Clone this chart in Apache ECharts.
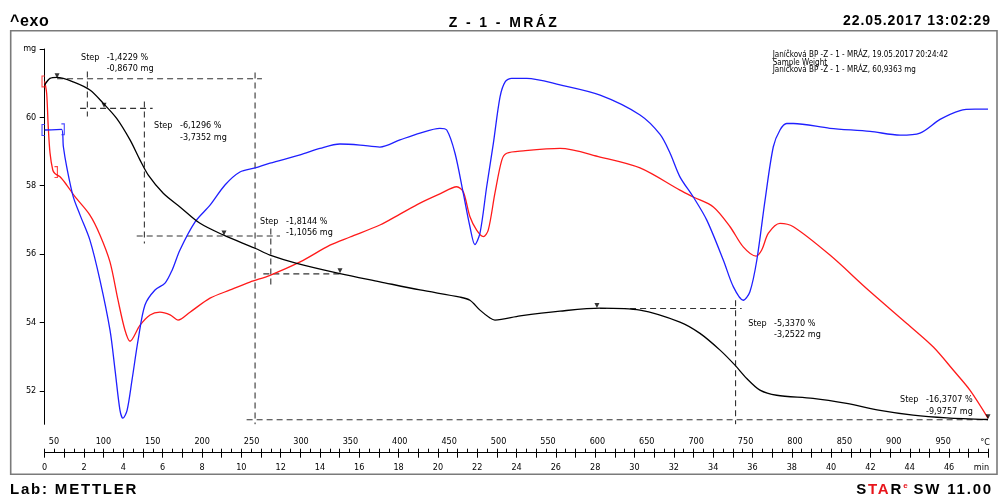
<!DOCTYPE html>
<html>
<head>
<meta charset="utf-8">
<script src="https://cdn.jsdelivr.net/npm/echarts@6/dist/echarts.min.js"></script>
<style>
  html, body { margin: 0; padding: 0; background: #fff; }
  #wrap { position: relative; width: 998px; height: 495px; overflow: hidden; }
  #chart { position: absolute; left: 0; top: 0; width: 998px; height: 495px; }
  .hdr { position: absolute; font-family: 'Liberation Sans', Arial, sans-serif; font-weight: bold;
         color: #000; white-space: nowrap; }
  .red { color: #e8141b; }
  .sup { position: relative; top: -6px; font-size: 8px; letter-spacing: 0; vertical-align: baseline; }
</style>
</head>
<body>
<div id="wrap">
  <div id="chart"></div>
  <div class="hdr" style="left:10px; top:12.5px; font-size:16px; line-height:16px; letter-spacing:0.6px;">^exo</div>
  <div class="hdr" style="left:0; width:1008px; text-align:center; top:14.8px; font-size:14px; line-height:14px; letter-spacing:2.4px;">Z - 1 - MRÁZ</div>
  <div class="hdr" style="right:7px; top:13.2px; font-size:14px; line-height:14px; letter-spacing:0.95px;">22.05.2017 13:02:29</div>
  <div class="hdr" style="left:10px; top:480.5px; font-size:15px; line-height:15px; letter-spacing:1.8px;">Lab: METTLER</div>
  <div class="hdr" style="right:5px; top:480.5px; font-size:15px; line-height:15px; letter-spacing:1.8px;">S<span class="red">TA</span>R<span class="red sup">e</span> SW 11.00</div>
</div>
<script>
// ---- TGA / DTA run, Z - 1 - MRÁZ -----------------------------------------
// time in min, weight in mg
const weightCurve = [
  [0, 60.95], [0.27, 61.14], [0.63, 61.17], [1.45, 61.04], [2.30, 60.80], [2.98, 60.41],
  [3.66, 59.97], [4.34, 59.34], [4.85, 58.75], [5.27, 58.31], [6.03, 57.78],
  [6.88, 57.38], [7.90, 56.90], [9.08, 56.56], [10.70, 56.17], [11.46, 55.97],
  [12.82, 55.73], [15.02, 55.43], [17.05, 55.19], [19.09, 54.95], [21.13, 54.74], [21.63, 54.65],
  [22.14, 54.36], [22.65, 54.13], [22.90, 54.07], [24.18, 54.19], [26.21, 54.33], [28.25, 54.42],
  [30.28, 54.36], [32.31, 54.01], [33.33, 53.68], [34.35, 53.19], [35.11, 52.75], [35.71, 52.36],
  [36.38, 52.02], [37.23, 51.87], [39.08, 51.78], [40.79, 51.63], [42.49, 51.43], [44.17, 51.29],
  [45.88, 51.21], [47.98, 51.16]
];
// signal curves (no printed scale), time in min
const redCurve = [
  [0, 61.05], [0.10, 60.70], [0.18, 59.73], [0.27, 58.96], [0.41, 58.46], [0.52, 58.36],
  [0.78, 58.26], [1.12, 58.02], [1.54, 57.68], [2.30, 57.14], [2.81, 56.56], [3.32, 55.77],
  [3.73, 54.65], [4.08, 53.78], [4.34, 53.45], [4.85, 53.92], [5.36, 54.22], [5.86, 54.30],
  [6.38, 54.22], [6.78, 54.07], [7.39, 54.30], [8.41, 54.71], [9.43, 54.95], [10.44, 55.18],
  [11.46, 55.38], [12.99, 55.77], [14.51, 56.26], [15.53, 56.50], [17.05, 56.85], [18.07, 57.17],
  [19.09, 57.49], [20.10, 57.76], [20.96, 57.97], [21.29, 57.82], [21.63, 57.09], [21.97, 56.70],
  [22.31, 56.51], [22.56, 56.70], [22.90, 57.78], [23.25, 58.75], [23.50, 58.95], [24.34, 59.02],
  [26.21, 59.09], [28.25, 58.84], [30.28, 58.52], [32.31, 57.87], [32.99, 57.67], [34.01, 57.38],
  [34.86, 56.80], [35.53, 56.21], [36.18, 55.94], [36.47, 56.12], [36.81, 56.61], [37.40, 56.90],
  [38.08, 56.80], [39.94, 55.97], [41.89, 54.95], [43.85, 53.97], [45.20, 53.28], [46.22, 52.60],
  [47.06, 52.02], [47.98, 51.20]
];
const blueCurve = [
  [0, 59.63], [0.86, 59.65], [0.95, 59.14], [1.12, 58.55], [1.45, 57.68], [1.80, 57.14],
  [2.30, 56.41], [2.81, 55.24], [3.32, 53.78], [3.58, 52.60], [3.83, 51.43], [3.98, 51.20],
  [4.19, 51.43], [4.44, 52.31], [4.75, 53.48], [5.10, 54.51], [5.61, 54.95], [6.12, 55.15],
  [6.48, 55.53], [6.88, 56.12], [7.65, 56.94], [8.41, 57.43], [9.17, 58.02], [9.93, 58.40],
  [10.70, 58.52], [11.46, 58.66], [12.99, 58.90], [14.00, 59.09], [15.02, 59.22], [16.04, 59.19],
  [17.05, 59.13], [18.07, 59.34], [19.09, 59.54], [20.10, 59.68], [20.45, 59.63], [20.87, 58.95],
  [21.29, 57.78], [21.63, 56.80], [21.88, 56.28], [22.14, 56.61], [22.48, 57.97], [22.82, 59.24],
  [23.16, 60.60], [23.42, 61.04], [23.75, 61.14], [24.52, 61.14], [26.21, 60.95], [28.25, 60.65],
  [30.28, 60.07], [31.30, 59.50], [31.81, 58.95], [32.31, 58.26], [32.99, 57.67], [33.67, 57.00],
  [34.52, 55.82], [35.03, 55.04], [35.53, 54.65], [35.87, 54.90], [36.22, 55.82], [36.64, 57.58],
  [37.06, 59.14], [37.40, 59.63], [37.74, 59.82], [38.08, 59.82], [39.94, 59.68], [41.98, 59.59],
  [43.51, 59.48], [44.52, 59.54], [45.54, 59.94], [46.56, 60.20], [47.32, 60.24], [47.98, 60.24]
];
// evaluation range brackets on the signal curves: [time, value]
const redRange = [[0, 61.05], [0.51, 58.40]];
const blueRange = [[0, 59.63], [0.86, 59.65]];

// step evaluation results
const stepMg = [-0.8670, -3.7352, -1.1056, -3.2522, -9.9757];
const stepPct = [-1.4229, -6.1296, -1.8144, -5.3370, -16.3707];
const startLevel = 61.13;          // mg, left baseline of the first step
// step start / end times (min) of the construction lines
const stepTimes = {
  s1Left: 2.17, s1Right: 10.70, s2Left: 5.07, s3Right: 11.50, s4Right: 35.14
};
const markerTimes = [0.63, 3.02, 9.12, 15.02, 28.09, 47.98];

// axis ranges
const timeRange = [0, 48];
const tempRange = [40.6, 995.8];
const massRange = [51.02, 62];

const legendLines = [
  'Janíčková BP -Z - 1 - MRÁZ, 19.05.2017 20:24:42',
  'Sample Weight',
  'Janíčková BP -Z - 1 - MRÁZ, 60,9363 mg'
];

// ---- derived levels --------------------------------------------------------
const L1 = startLevel;
const L2 = L1 + stepMg[0];
const L3 = L2 + stepMg[1];
const L4 = L3 + stepMg[2];
const Lend = L1 + stepMg[4];
const L5 = Lend - stepMg[3];
const levels = [L1, L2, L3, L4, L5, Lend];

const stepSegments = [
  [[0.63, L1], [11.05, L1]],
  [[stepTimes.s1Left, L1 + 0.21], [stepTimes.s1Left, L2 - 0.24]],
  [[stepTimes.s1Right, L1 + 0.18], [stepTimes.s1Right, massRange[0]]],
  [[1.80, L2], [5.49, L2]],
  [[stepTimes.s2Left, L2 + 0.2], [stepTimes.s2Left, L3 - 0.22]],
  [[4.68, L3], [11.97, L3]],
  [[stepTimes.s3Right, L3 + 0.22], [stepTimes.s3Right, L4 - 0.33]],
  [[11.12, L4], [15.02, L4]],
  [[27.74, L5], [35.45, L5]],
  [[stepTimes.s4Right, L5 + 0.24], [stepTimes.s4Right, massRange[0]]],
  [[10.27, Lend], [47.98, Lend]]
];

const fmt = (v, d) => v.toFixed(d).replace('.', ',');
const smallFont = "'Liberation Sans Narrow','DejaVu Sans Condensed','Arial Narrow',sans-serif";
const axisFont = "'DejaVu Sans Condensed','Liberation Sans Narrow',sans-serif";

// ---- chart -----------------------------------------------------------------
const chart = echarts.init(document.getElementById('chart'), null, { renderer: 'canvas', width: 998, height: 495 });

const dashStyle = { color: '#333', width: 1.1, type: [6, 4] };
const stepSeries = stepSegments.map(seg => ({
  type: 'line', data: seg, xAxisIndex: 0, yAxisIndex: 0, symbol: 'none', silent: true,
  lineStyle: dashStyle, z: 2
}));

// bracket glyphs marking the evaluation limits
const OPEN_BRACKET = 'path://M0,0H4V1.3H1.3V12.7H4V14H0Z';
const CLOSE_BRACKET = 'path://M0,0H4V14H0V12.7H2.7V1.3H0Z';
const bracketSeries = (pts, color, yIdx) => ({
  type: 'scatter', xAxisIndex: 0, yAxisIndex: yIdx, silent: true, z: 6,
  symbolSize: [3.5, 12], itemStyle: { color },
  data: pts.map((p, i) => ({ value: p, symbol: i === 0 ? OPEN_BRACKET : CLOSE_BRACKET,
                             symbolOffset: [i === 0 ? -1.5 : 1.5, 0] }))
});

// label blocks for each step: "Step" x, row y, value column x (px)
const stepLabelPos = [[81, 57.3, 106.7], [154, 126, 180], [260, 221.7, 286], [748.3, 323.3, 774], [900, 400, 926]];
const textEls = [];
stepLabelPos.forEach((p, i) => {
  const st = { font: '9px ' + smallFont, fill: '#000', verticalAlign: 'middle' };
  textEls.push({ type: 'text', x: p[0], y: p[1], style: Object.assign({ text: 'Step' }, st) });
  textEls.push({ type: 'text', x: p[2], y: p[1], style: Object.assign({ text: fmt(stepPct[i], 4) + ' %' }, st) });
  textEls.push({ type: 'text', x: p[2], y: p[1] + 11.3, style: Object.assign({ text: fmt(stepMg[i], 4) + ' mg' }, st) });
});
legendLines.forEach((t, i) => {
  textEls.push({ type: 'text', x: 772.7, y: 55 + i * 7.6,
    style: { text: t, font: '8px ' + smallFont, fill: '#000', verticalAlign: 'middle' } });
});
textEls.push({ type: 'text', x: 985, y: 442.5, style: { text: '°C', font: '9px ' + axisFont, fill: '#000', align: 'center', verticalAlign: 'middle' } });
textEls.push({ type: 'text', x: 981.5, y: 467.5, style: { text: 'min', font: '9px ' + axisFont, fill: '#000', align: 'center', verticalAlign: 'middle' } });
textEls.push({ type: 'rect', shape: { x: 10.7, y: 30.7, width: 986.3, height: 443.6 },
  style: { fill: 'none', stroke: '#7a7a7a', lineWidth: 1.6 }, z: -1 });

const curveSmooth = 0.3;
const option = {
  animation: false,
  backgroundColor: '#fff',
  grid: { left: 44.7, top: 49, width: 943.7, height: 375.3, containLabel: false, outerBoundsMode: 'none' },
  xAxis: [
    { // time, labelled every 2 min
      type: 'value', min: timeRange[0], max: timeRange[1], interval: 2, position: 'bottom', offset: 28.4,
      axisLine: { onZero: false, lineStyle: { color: '#000', width: 1 } },
      axisTick: { length: 5, lineStyle: { color: '#000' } },
      minorTick: { show: true, splitNumber: 2, length: 5, lineStyle: { color: '#000' } },
      axisLabel: { margin: 10.5, fontSize: 9, fontFamily: axisFont, color: '#000', showMaxLabel: false },
      splitLine: { show: false }
    },
    { // half-minute ticks above the line
      type: 'value', min: timeRange[0], max: timeRange[1], interval: 0.5, position: 'bottom', offset: 28.4,
      axisLine: { show: false }, axisTick: { inside: true, length: 4, lineStyle: { color: '#000' } },
      axisLabel: { show: false }, splitLine: { show: false }
    },
    { // furnace temperature
      type: 'value', min: tempRange[0], max: tempRange[1], splitNumber: 19, position: 'bottom', offset: 28.4,
      axisLine: { show: false }, axisTick: { show: false },
      axisLabel: { inside: true, margin: 6.5, fontSize: 9, fontFamily: smallFont, color: '#000',
                   showMinLabel: false, showMaxLabel: false },
      splitLine: { show: false }
    }
  ],
  yAxis: [
    {
      type: 'value', min: massRange[0], max: massRange[1], splitNumber: 5, position: 'left',
      axisLine: { show: true, onZero: false, lineStyle: { color: '#000', width: 1 } },
      axisTick: { length: 5, lineStyle: { color: '#000' } },
      axisLabel: { margin: 8.5, fontSize: 9, fontFamily: smallFont, color: '#000', showMinLabel: false,
                   formatter: v => (v === massRange[1] ? 'mg' : String(v)) },
      splitLine: { show: false }
    },
    { type: 'value', min: massRange[0], max: massRange[1], show: false }
  ],
  graphic: textEls,
  series: [
    ...stepSeries,
    { name: 'signal red', type: 'line', data: redCurve, xAxisIndex: 0, yAxisIndex: 1, showSymbol: false,
      smooth: curveSmooth, lineStyle: { color: '#ff1a1a', width: 1.3 }, z: 3 },
    { name: 'signal blue', type: 'line', data: blueCurve, xAxisIndex: 0, yAxisIndex: 1, showSymbol: false,
      smooth: curveSmooth, lineStyle: { color: '#1f1fff', width: 1.3 }, z: 3 },
    { name: 'weight', type: 'line', data: weightCurve, xAxisIndex: 0, yAxisIndex: 0, showSymbol: false,
      smooth: curveSmooth, lineStyle: { color: '#000', width: 1.3 }, z: 4 },
    bracketSeries(redRange, '#ff1a1a', 1),
    bracketSeries(blueRange, '#1f1fff', 1),
    { name: 'step markers', type: 'scatter', xAxisIndex: 0, yAxisIndex: 0,
      data: markerTimes.map((t, i) => [t, levels[i]]),
      symbol: 'triangle', symbolRotate: 180, symbolSize: 5, symbolOffset: [0, -3],
      itemStyle: { color: '#000' }, z: 5, silent: true }
  ]
};
chart.setOption(option);
</script>
</body>
</html>
